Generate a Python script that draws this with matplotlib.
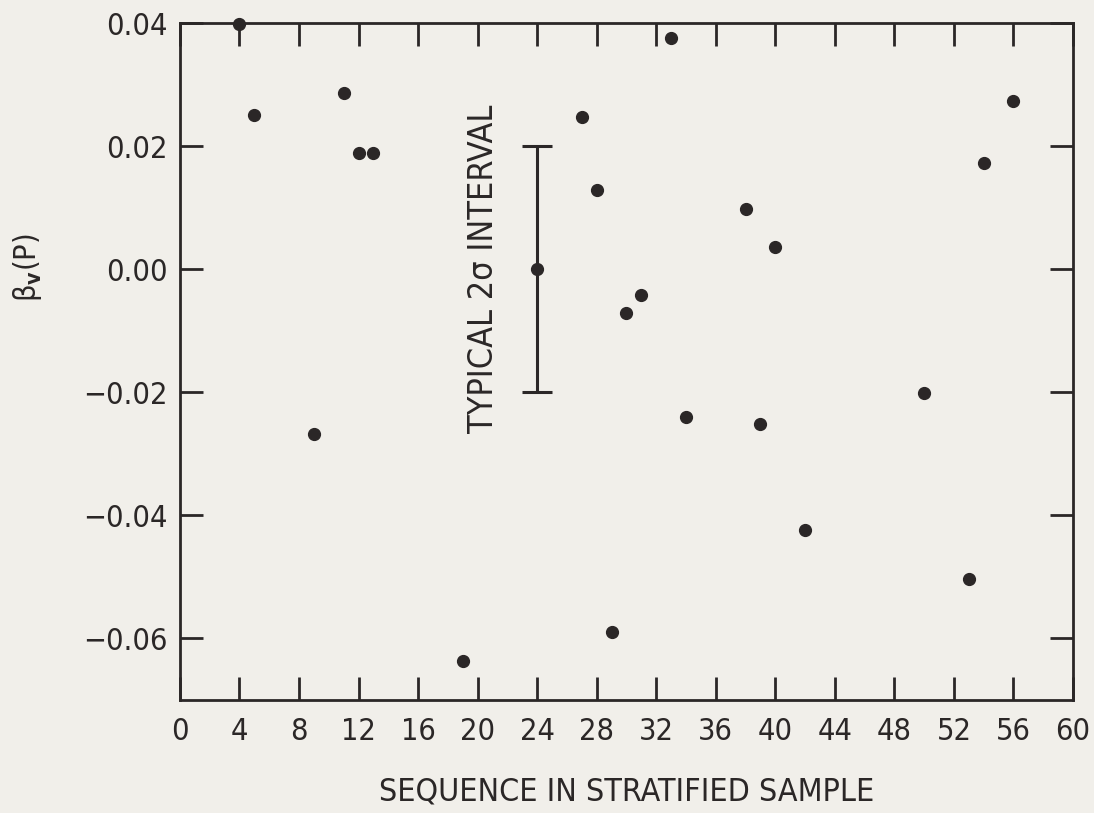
import numpy as np
import matplotlib.pyplot as plt

plt.rcParams['font.family'] = ['DejaVu Sans']
plt.rcParams['font.stretch'] = 'condensed'

# Data
seq = [4, 5, 9, 11, 12, 13, 19, 27, 28, 29, 30, 31, 33, 34, 38, 39, 40, 42, 50, 53, 54, 56]
beta = [0.0398, 0.0251, -0.0268, 0.0287, 0.0188, 0.0188, -0.0637, 0.0247, 0.0128,
        -0.0589, -0.0071, -0.0042, 0.0375, -0.0240, 0.0097, -0.0251, 0.0036,
        -0.0423, -0.0201, -0.0504, 0.0173, 0.0273]

# typical 2 sigma interval
err_x = 24
err_y = 0.0
err_half = 0.02

xticks = list(range(0, 61, 4))
yticks = [-0.06, -0.04, -0.02, 0.00, 0.02, 0.04]
ink = '#2b2727'
bg = '#f1efea'

fig = plt.figure(figsize=(10.94, 8.13), dpi=100, facecolor=bg)
ax = fig.add_axes([0.1645, 0.139, 0.8163, 0.8327], facecolor=bg)

ax.plot(seq, beta, 'o', color=ink, ms=8.5, clip_on=False, zorder=3)
ax.errorbar([err_x], [err_y], yerr=err_half, fmt='o', color=ink, ms=8.5,
            elinewidth=2.2, capsize=11, capthick=2.2, zorder=3)

ax.text(20.4, 0.0, 'TYPICAL 2σ INTERVAL', rotation=90, ha='center', va='center',
        fontsize=24.5, color=ink)

ax.set_xlim(0, 60)
ax.set_ylim(-0.07, 0.04)
ax.set_xticks(xticks)
ax.set_xticklabels([str(t) for t in xticks])
ax.set_yticks(yticks)
ax.set_yticklabels(['\u22120.06', '\u22120.04', '\u22120.02', '0.00', '0.02', '0.04'])

ax.tick_params(direction='in', length=16.5, width=2, color=ink, labelcolor=ink,
               top=True, right=True, labelsize=22)
ax.tick_params(axis='x', pad=12)
ax.tick_params(axis='y', pad=9)
for s in ax.spines.values():
    s.set_linewidth(2)
    s.set_color(ink)

ax.set_xlabel('SEQUENCE IN STRATIFIED SAMPLE', fontsize=23, color=ink, labelpad=22)
ax.set_ylabel(r'β$_\mathbf{v}$(P)', fontsize=22, color=ink)
ax.yaxis.set_label_coords(-0.152, 0.638)

fig.savefig('out.png', dpi=100, facecolor=bg)
